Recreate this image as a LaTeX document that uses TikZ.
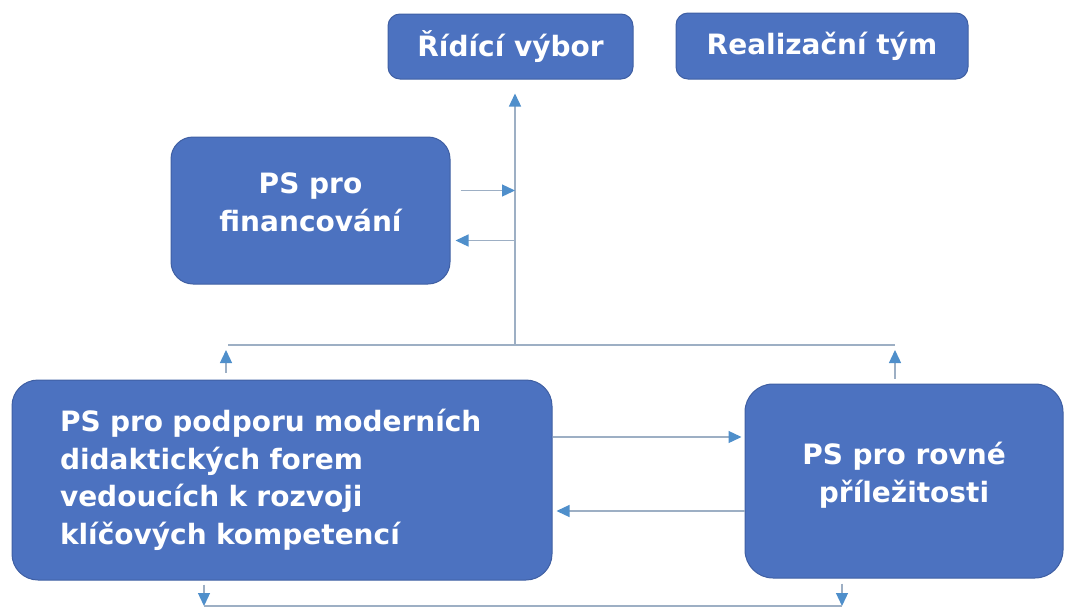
\documentclass[tikz,border=0pt]{standalone}
\usepackage{fontspec}
\setmainfont{DejaVu Sans}
\usetikzlibrary{arrows.meta,calc}
\definecolor{boxblue}{HTML}{4C72C0}
\definecolor{boxedge}{HTML}{3F5FA3}
\definecolor{linegray}{HTML}{9DAFC4}
\definecolor{tipblue}{HTML}{4F8FCB}
\tikzset{
  grp/.style={draw=boxedge, fill=boxblue, line width=1pt, text=white,
    font=\fontsize{28}{37.5}\selectfont\bfseries, align=center, inner sep=0pt},
  link/.style={draw=linegray, line width=1.3pt,
    -{Triangle[length=13pt,width=12pt,color=tipblue]}},
  bus/.style={draw=linegray, line width=1.3pt}
}

\begin{document}
\begin{tikzpicture}[x=1pt,y=-1pt]
\useasboundingbox (0,0) rectangle (1065,608);

% boxes
\node[grp, rounded corners=12pt, minimum width=245pt, minimum height=65pt] (ridici) at (510.5,46.5) {Řídící výbor};
\node[grp, rounded corners=12pt, minimum width=292pt, minimum height=66pt] (tym) at (822,46) {Realizační tým};
\node[grp, rounded corners=22pt, minimum width=279pt, minimum height=147pt, text depth=17pt] (financ) at (310.5,210.5) {PS pro\\financování};
\node[grp, rounded corners=26pt, minimum height=200pt, text width=444pt, inner xsep=48pt, align=left] (podpora) at (282,480)
  {PS pro podporu moderních\\didaktických forem\\vedoucích k rozvoji\\klíčových kompetencí};
\node[grp, rounded corners=28pt, minimum width=318pt, minimum height=194pt, text depth=17pt] (rovne) at (904,481) {PS pro rovné\\příležitosti};

% bus lines
\coordinate (busL) at (228,345);
\coordinate (busM) at (515,345);
\coordinate (busR) at (895,345);
\coordinate (upL) at (226,350);
\coordinate (upR) at (895,350);
\coordinate (dnL) at (204,606);
\coordinate (dnR) at (842,606);

\draw[bus] (busL) -- (busR);
\draw[link, shorten >=14pt] (busM) -- (busM |- ridici.south);
\draw[link, shorten <=7pt] (podpora.north -| upL) -- (upL);
\draw[link, shorten <=5pt] (rovne.north -| upR) -- (upR);

% financovani
\draw[link, shorten <=10pt] ([yshift=20pt]financ.east) -- ([yshift=20pt]financ.east -| busM);
\draw[link, shorten >=5pt] ([yshift=-30pt]financ.east -| busM) -- ([yshift=-30pt]financ.east);

% podpora <-> rovne
\draw[link, shorten >=3pt] ([yshift=43pt]podpora.east) -- ([yshift=43pt]podpora.east -| rovne.west);
\draw[link, shorten >=4pt] ([yshift=-30pt]rovne.west) -- ([yshift=-30pt]rovne.west -| podpora.east);

% bottom
\draw[link, shorten <=4pt] (podpora.south -| dnL) -- (dnL);
\draw[link, shorten <=5pt] (rovne.south -| dnR) -- (dnR);
\draw[bus] (dnL) -- (dnR);
\end{tikzpicture}
\end{document}
